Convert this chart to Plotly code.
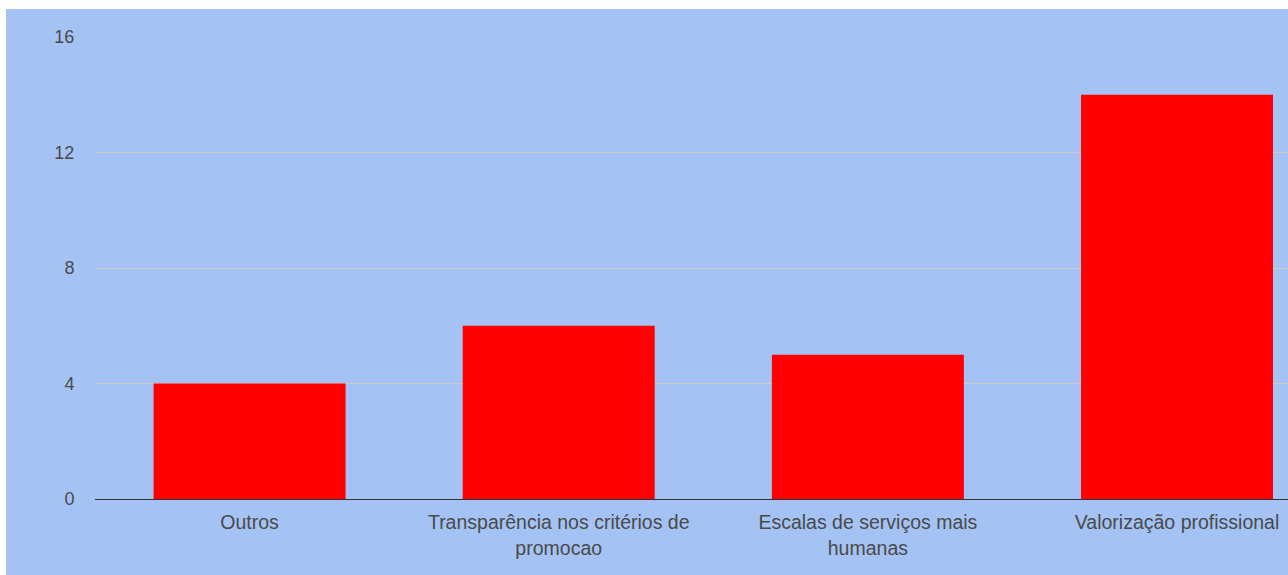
import plotly.graph_objects as go

categories = ["Outros", "Transparência nos critérios de<br>promocao",
              "Escalas de serviços mais<br>humanas", "Valorização profissional"]
values = [4, 6, 5, 14]
y_ticks = [0, 4, 8, 12, 16]

BG = "#a4c2f4"
FONT = "Arial, Liberation Sans, sans-serif"
TXT = "#4a4a4a"

fig = go.Figure(go.Bar(x=categories, y=values, marker=dict(color="#ff0000", line=dict(width=0)),
                       width=0.621))

fig.update_layout(
    width=1282, height=566,
    margin=dict(l=89, r=0, t=28, b=76),
    paper_bgcolor=BG, plot_bgcolor=BG,
    font=dict(family=FONT, size=18, color=TXT),
    showlegend=False,
)
fig.update_xaxes(
    range=[-0.5, 3.359], showgrid=False, showline=True, linecolor="#333333", linewidth=1,
    tickfont=dict(size=19.5, color=TXT), ticks="outside", ticklen=6, tickcolor="rgba(0,0,0,0)",
    fixedrange=True,
)
fig.update_yaxes(
    range=[0, 16], tickvals=y_ticks, showgrid=True, gridcolor="#cccccc", gridwidth=1,
    zeroline=False, showline=False,
    tickfont=dict(size=18, color=TXT), ticks="outside", ticklen=16, tickcolor="rgba(0,0,0,0)",
)

fig.write_html(
    "out.html",
    post_script="document.body.style.margin='9px 0 0 6px';document.body.style.overflow='hidden';",
)
